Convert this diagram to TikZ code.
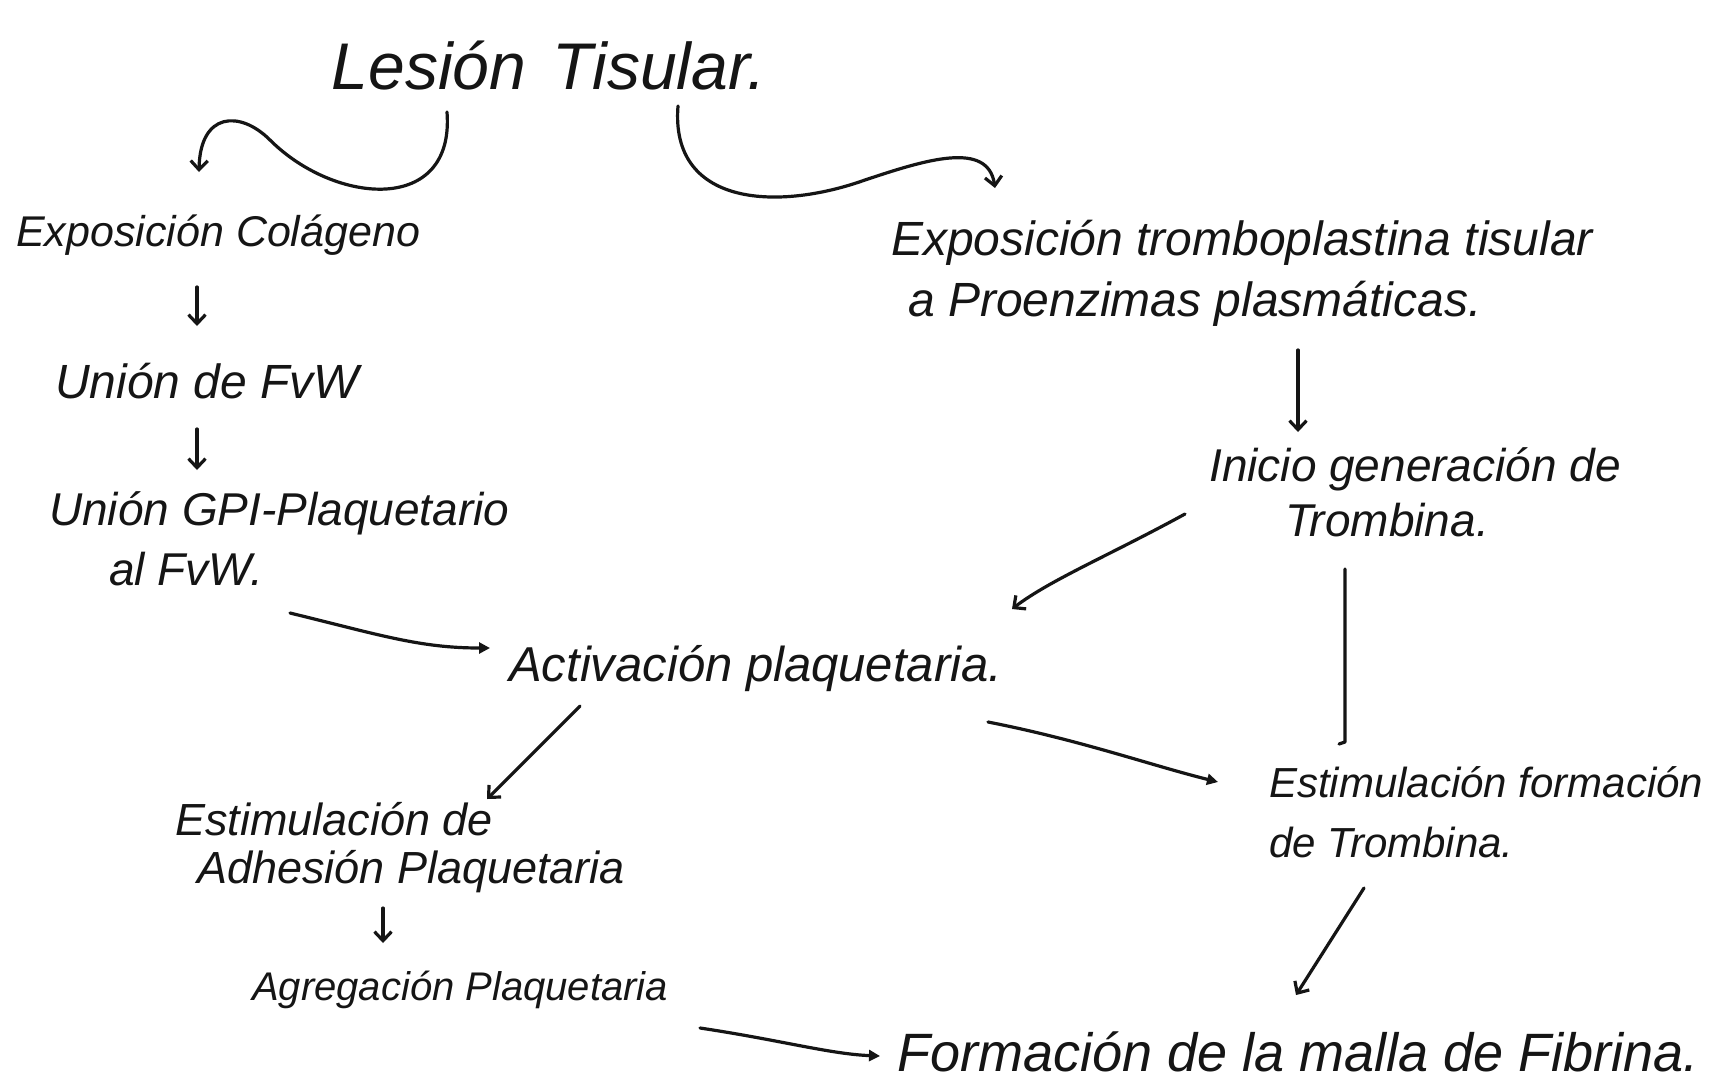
\documentclass[tikz,border=0pt]{standalone}
\usepackage{fontspec}
\setmainfont{Liberation Sans}
\usetikzlibrary{arrows.meta}
\definecolor{ink}{HTML}{151515}
\newcommand\handfont[2]{\fontsize{#1}{#2}\selectfont\itshape}
\begin{document}
\begin{tikzpicture}[x=1pt,y=-1pt,
  lbl/.style={inner sep=0pt, text=ink, anchor=west, align=left},
  arr/.style={draw=ink, line width=3.2pt, line cap=round, line join=round, -{Straight Barb[length=9pt,width=17pt]}},
  tarr/.style={draw=ink, line width=3.2pt, line cap=round, line join=round, -{Triangle[length=11pt,width=11pt]}},
  plainline/.style={draw=ink, line width=3.2pt, line cap=round, line join=round}]
\fill[white] (0,0) rectangle (1715,1082);
\useasboundingbox (0,0) rectangle (1715,1082);

% texts
\node[lbl, anchor=center, font=\handfont{66}{70}] (title) at (549,66) {Lesión\hspace{0.4em}Tisular.};
\node[lbl, font=\handfont{43}{50}] (col) at (16,235) {Exposición Colágeno};
\node[lbl, font=\handfont{48}{55}] (fvw) at (55,381) {Unión de FvW};
\node[lbl, font=\handfont{46}{60}] (gpi) at (49,539) {Unión GPI-Plaquetario\\\hspace*{60pt}al FvW.};
\node[lbl, font=\handfont{49}{55}] (act) at (509,669) {Activación plaquetaria.};
\node[lbl, font=\handfont{45}{48}] (adh) at (175,848) {Estimulación de\\\hspace*{22pt}Adhesión Plaquetaria};
\node[lbl, font=\handfont{40}{48}] (agr) at (252,990) {Agregación Plaquetaria};
\node[lbl, font=\handfont{54}{60}] (fib) at (897,1052) {Formación de la malla de Fibrina.};
\node[lbl, font=\handfont{48}{61}] (tro) at (891,273) {Exposición tromboplastina tisular\\\hspace*{17pt}a Proenzimas plasmáticas.};
\node[lbl, font=\handfont{46}{55}] (ini) at (1209,492) {Inicio generación de\\\hspace*{76pt}Trombina.};
\node[lbl, font=\handfont{42}{60}] (estf) at (1269,812) {Estimulación formación\\de Trombina.};

% connector ends
\coordinate (titleL) at (447,112);
\coordinate (colIn) at (199,172);
\coordinate (titleR) at (678,106);
\coordinate (troIn) at (995,188);
\coordinate (colOut) at (197,287);
\coordinate (fvwIn) at (197,326);
\coordinate (fvwOut) at (197,429);
\coordinate (gpiIn) at (197,470);
\coordinate (gpiOut) at (290,613);
\coordinate (actIn) at (490,648);
\coordinate (actOut) at (580,706);
\coordinate (adhIn) at (487,799);
\coordinate (adhOut) at (383,908);
\coordinate (agrIn) at (383,943);
\coordinate (agrOut) at (700,1028);
\coordinate (fibIn) at (880,1056);
\coordinate (troOut) at (1298,350);
\coordinate (iniIn) at (1298,432);
\coordinate (iniOut) at (1185,514);
\coordinate (actIn2) at (1012,609);
\coordinate (iniOut2) at (1345,569);
\coordinate (estfTop) at (1345,742);
\coordinate (actOut2) at (988,722);
\coordinate (estfIn) at (1218,782);
\coordinate (estfOut) at (1364,888);
\coordinate (fibIn2) at (1296,995);

% connectors
\draw[arr] (titleL) .. controls (455,215) and (335,205) .. (270,140) .. controls (240,110) and (200,112) .. (colIn);
\draw[arr] (titleR) .. controls (670,205) and (775,212) .. (865,180) .. controls (925,160) and (988,140) .. (troIn);
\draw[arr] (colOut) -- (fvwIn);
\draw[arr] (fvwOut) -- (gpiIn);
\draw[tarr] (gpiOut) .. controls (380,635) and (420,648) .. (actIn);
\draw[arr] (actOut) -- (adhIn);
\draw[arr] (adhOut) -- (agrIn);
\draw[tarr] (agrOut) .. controls (780,1040) and (830,1054) .. (fibIn);
\draw[arr] (troOut) -- (iniIn);
\draw[arr] (iniOut) .. controls (1110,555) and (1050,580) .. (actIn2);
\draw[plainline] (iniOut2) -- (estfTop) -- ++(-6,2);
\draw[tarr] (actOut2) .. controls (1080,740) and (1150,765) .. (estfIn);
\draw[arr] (estfOut) -- (fibIn2);
\end{tikzpicture}
\end{document}
